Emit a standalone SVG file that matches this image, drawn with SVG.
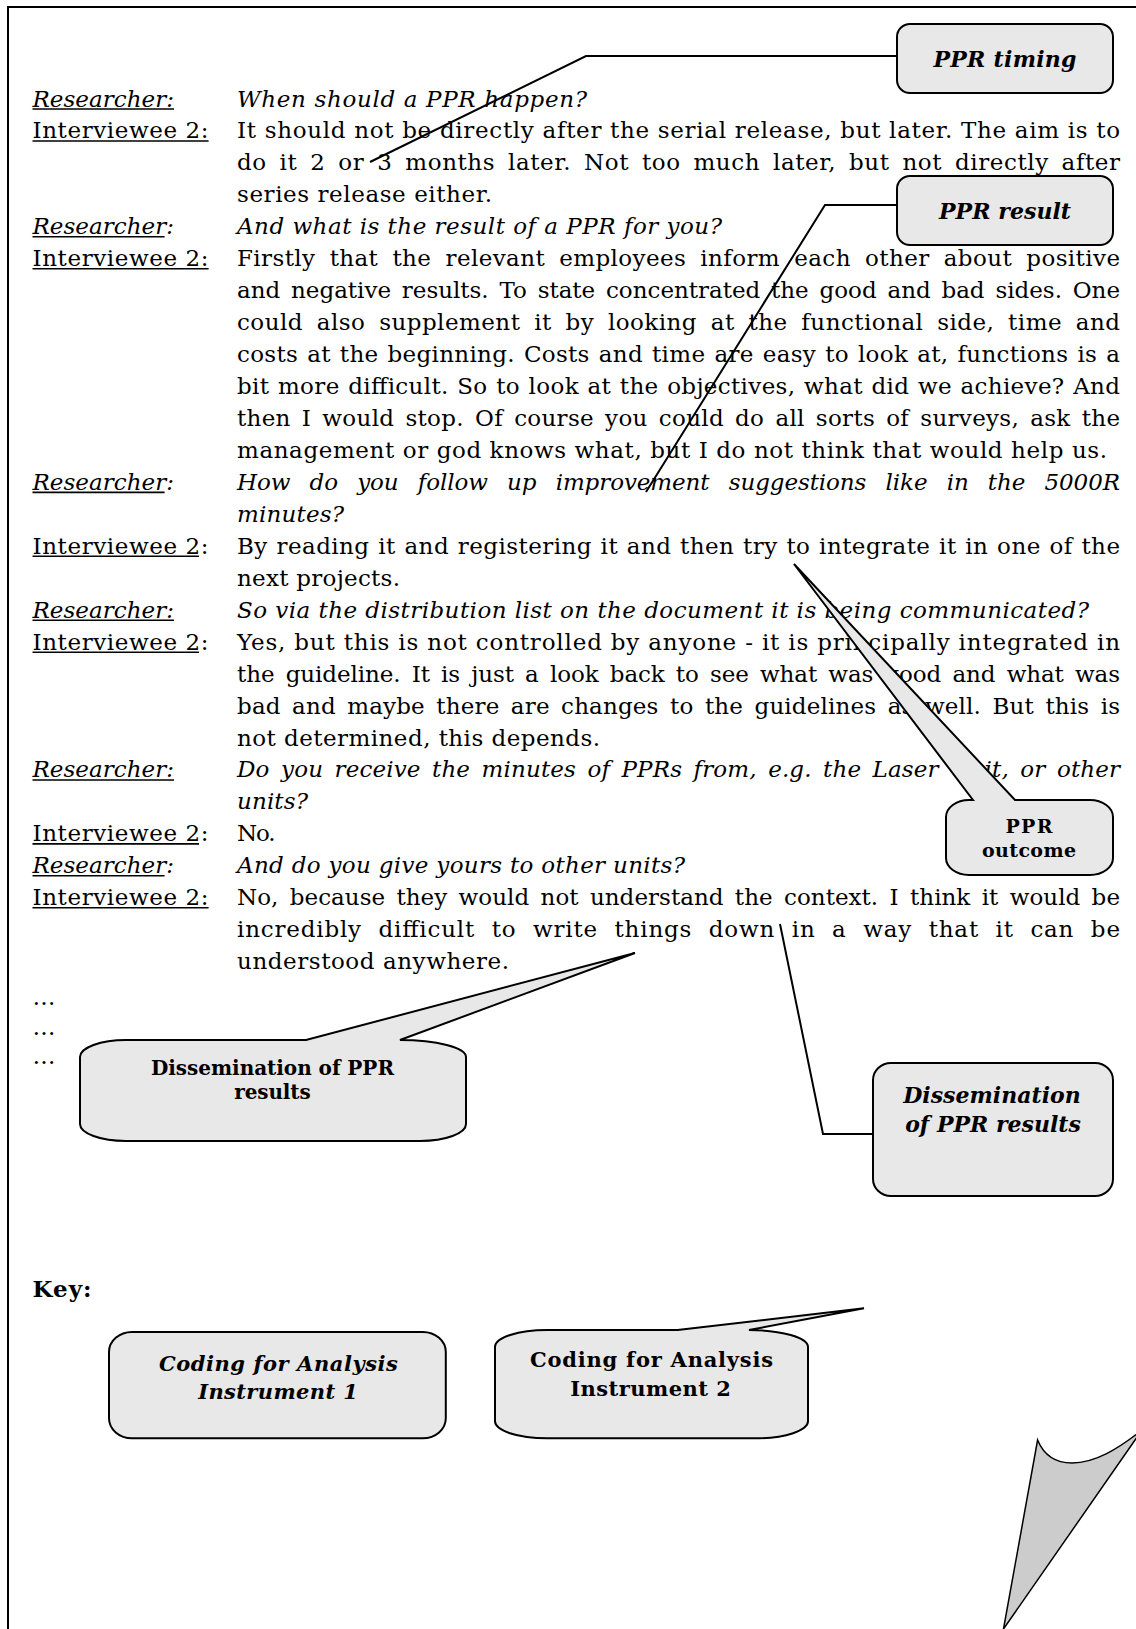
<svg xmlns="http://www.w3.org/2000/svg" width="1136" height="1629" viewBox="0 0 1136 1629">
  <style>
    .t { font-family: "DejaVu Serif", "Liberation Serif", serif; font-size: 23px; fill: #000; }
    .i { font-style: italic; }
    .ul { stroke: #000; stroke-width: 1.6; }
    .box { fill: #e8e8e8; stroke: #000; stroke-width: 2; }
    .tail { fill: #cccccc; stroke: #000; stroke-width: 1.5; }
    .lbl { font-family: "DejaVu Serif", "Liberation Serif", serif; font-weight: bold; fill: #000; text-anchor: middle; }
    .con { fill: none; stroke: #000; stroke-width: 2; }
  </style>

  <rect width="1136" height="1629" fill="#fff"/>
  <!-- frame: left and top edges only -->
  <path d="M8,1629 V7 H1136" fill="none" stroke="#000" stroke-width="2"/>

  <!-- interview transcript; justified lines get word spacing, textLength trims the rest -->
  <g id="transcript" class="t">
    <text x="32.5" y="106.5" class="i" textLength="141.5" lengthAdjust="spacing">Researcher:</text>
    <text x="237" y="106.5" class="i" textLength="350" lengthAdjust="spacing">When should a PPR happen?</text>

    <text x="32.5" y="138.45" textLength="176" lengthAdjust="spacing">Interviewee 2:</text>
    <text x="237" y="138.45" textLength="883" lengthAdjust="spacing">It should not be directly after the serial release, but later. The aim is to</text>
    <text x="237" y="170.4" word-spacing="5" textLength="883" lengthAdjust="spacing">do it 2 or 3 months later. Not too much later, but not directly after</text>
    <text x="237" y="202.35" textLength="255" lengthAdjust="spacing">series release either.</text>

    <text x="32.5" y="234.3" class="i" textLength="141.5" lengthAdjust="spacing">Researcher:</text>
    <text x="237" y="234.3" class="i" textLength="485" lengthAdjust="spacing">And what is the result of a PPR for you?</text>

    <text x="32.5" y="266.25" textLength="176" lengthAdjust="spacing">Interviewee 2:</text>
    <text x="237" y="266.25" word-spacing="6.5" textLength="883" lengthAdjust="spacing">Firstly that the relevant employees inform each other about positive</text>
    <text x="237" y="298.2" word-spacing="3.5" textLength="883" lengthAdjust="spacing">and negative results. To state concentrated the good and bad sides. One</text>
    <text x="237" y="330.15" word-spacing="6" textLength="883" lengthAdjust="spacing">could also supplement it by looking at the functional side, time and</text>
    <text x="237" y="362.1" word-spacing="1.5" textLength="883" lengthAdjust="spacing">costs at the beginning. Costs and time are easy to look at, functions is a</text>
    <text x="237" y="394.05" word-spacing="1" textLength="883" lengthAdjust="spacing">bit more difficult. So to look at the objectives, what did we achieve? And</text>
    <text x="237" y="426" word-spacing="3.5" textLength="883" lengthAdjust="spacing">then I would stop. Of course you could do all sorts of surveys, ask the</text>
    <text x="237" y="457.95" textLength="870" lengthAdjust="spacing">management or god knows what, but I do not think that would help us.</text>

    <text x="32.5" y="489.9" class="i" textLength="141.5" lengthAdjust="spacing">Researcher:</text>
    <text x="237" y="489.9" class="i" word-spacing="12" textLength="883" lengthAdjust="spacing">How do you follow up improvement suggestions like in the 5000R</text>
    <text x="237" y="521.85" class="i" textLength="107" lengthAdjust="spacing">minutes?</text>

    <text x="32.5" y="553.8" textLength="176" lengthAdjust="spacing">Interviewee 2:</text>
    <text x="237" y="553.8" word-spacing="1" textLength="883" lengthAdjust="spacing">By reading it and registering it and then try to integrate it in one of the</text>
    <text x="237" y="585.75" textLength="163" lengthAdjust="spacing">next projects.</text>

    <text x="32.5" y="617.7" class="i" textLength="141.5" lengthAdjust="spacing">Researcher:</text>
    <text x="237" y="617.7" class="i" textLength="852" lengthAdjust="spacing">So via the distribution list on the document it is being communicated?</text>

    <text x="32.5" y="649.65" textLength="176" lengthAdjust="spacing">Interviewee 2:</text>
    <text x="237" y="649.65" textLength="883" lengthAdjust="spacing">Yes, but this is not controlled by anyone - it is principally integrated in</text>
    <text x="237" y="681.6" word-spacing="4" textLength="883" lengthAdjust="spacing">the guideline. It is just a look back to see what was good and what was</text>
    <text x="237" y="713.55" word-spacing="4" textLength="883" lengthAdjust="spacing">bad and maybe there are changes to the guidelines as well. But this is</text>
    <text x="237" y="745.5" textLength="363" lengthAdjust="spacing">not determined, this depends.</text>

    <text x="32.5" y="777.45" class="i" textLength="141.5" lengthAdjust="spacing">Researcher:</text>
    <text x="237" y="777.45" class="i" word-spacing="4" textLength="883" lengthAdjust="spacing">Do you receive the minutes of PPRs from, e.g. the Laser Unit, or other</text>
    <text x="237" y="809.4" class="i" textLength="71" lengthAdjust="spacing">units?</text>

    <text x="32.5" y="841.35" textLength="176" lengthAdjust="spacing">Interviewee 2:</text>
    <text x="237" y="841.35" textLength="38.5" lengthAdjust="spacing">No.</text>

    <text x="32.5" y="873.3" class="i" textLength="141.5" lengthAdjust="spacing">Researcher:</text>
    <text x="237" y="873.3" class="i" textLength="448" lengthAdjust="spacing">And do you give yours to other units?</text>

    <text x="32.5" y="905.25" textLength="176" lengthAdjust="spacing">Interviewee 2:</text>
    <text x="237" y="905.25" word-spacing="4" textLength="883" lengthAdjust="spacing">No, because they would not understand the context. I think it would be</text>
    <text x="237" y="937.2" word-spacing="8.5" textLength="883" lengthAdjust="spacing">incredibly difficult to write things down in a way that it can be</text>
    <text x="237" y="969.15" textLength="272" lengthAdjust="spacing">understood anywhere.</text>

    <text x="32.5" y="1005">…</text>
    <text x="32.5" y="1035">…</text>
    <text x="32.5" y="1064">…</text>

    <text x="32.5" y="1297" font-weight="bold" textLength="59" lengthAdjust="spacing">Key:</text>
  </g>

  <!-- speaker-label underlines (some stop before the colon) -->
  <g id="speaker-underlines" class="ul">
    <line x1="32.5" y1="109" x2="174" y2="109"/>
    <line x1="32.5" y1="141" x2="208.6" y2="141"/>
    <line x1="32.5" y1="236.8" x2="164.6" y2="236.8"/>
    <line x1="32.5" y1="268.8" x2="208.6" y2="268.8"/>
    <line x1="32.5" y1="492.4" x2="164.6" y2="492.4"/>
    <line x1="32.5" y1="556.3" x2="199" y2="556.3"/>
    <line x1="32.5" y1="620.2" x2="174" y2="620.2"/>
    <line x1="32.5" y1="652.2" x2="199" y2="652.2"/>
    <line x1="32.5" y1="780" x2="174" y2="780"/>
    <line x1="32.5" y1="843.9" x2="199" y2="843.9"/>
    <line x1="32.5" y1="875.8" x2="164.6" y2="875.8"/>
    <line x1="32.5" y1="907.8" x2="208.6" y2="907.8"/>
  </g>

  <!-- plain connectors from code boxes to the passages they tag -->
  <g id="connectors">
    <polyline class="con" points="370,162 586,56 897,56"/>
    <polyline class="con" points="646,492 825,205 897,205"/>
    <polyline class="con" points="780,924 823,1134 873,1134"/>
  </g>

  <g id="node-ppr-timing">
    <rect class="box" x="897" y="24" width="216" height="69" rx="13" ry="13"/>
    <text class="lbl" x="1005" y="66.7" font-size="22" font-style="italic" textLength="143" lengthAdjust="spacing">PPR timing</text>
  </g>

  <g id="node-ppr-result">
    <rect class="box" x="897" y="176" width="216" height="69" rx="13" ry="13"/>
    <text class="lbl" x="1005" y="219" font-size="22" font-style="italic" textLength="132" lengthAdjust="spacing">PPR result</text>
  </g>

  <g id="node-ppr-outcome">
    <path class="box" d="M973,800 L794,564 L1015,800 L1090,800 A23,17 0 0 1 1113,817 L1113,858 A23,17 0 0 1 1090,875 L969,875 A23,17 0 0 1 946,858 L946,817 A23,17 0 0 1 969,800 Z"/>
    <text class="lbl" x="1029" y="832.5" font-size="19" textLength="47" lengthAdjust="spacing">PPR</text>
    <text class="lbl" x="1029" y="856.5" font-size="19" textLength="94" lengthAdjust="spacing">outcome</text>
  </g>

  <g id="node-dissemination-2">
    <path class="box" d="M126,1040 L306,1040 L635,953 L400,1040 A66,17 0 0 1 466,1057 L466,1124 A46,17 0 0 1 420,1141 L126,1141 A46,17 0 0 1 80,1124 L80,1057 A46,17 0 0 1 126,1040 Z"/>
    <text class="lbl" x="272.5" y="1074.5" font-size="20" textLength="243" lengthAdjust="spacing">Dissemination of PPR</text>
    <text class="lbl" x="272.5" y="1098.5" font-size="20" textLength="76.5" lengthAdjust="spacing">results</text>
  </g>

  <g id="node-dissemination-1">
    <rect class="box" x="873" y="1063" width="240" height="133" rx="18" ry="17"/>
    <text class="lbl" x="992" y="1103.3" font-size="22" font-style="italic" textLength="177.5" lengthAdjust="spacing">Dissemination</text>
    <text class="lbl" x="993" y="1131.7" font-size="22" font-style="italic" textLength="175.7" lengthAdjust="spacing">of PPR results</text>
  </g>

  <g id="key-instrument-1">
    <rect class="box" x="109" y="1332" width="336.8" height="106.3" rx="23" ry="20"/>
    <text class="lbl" x="278.4" y="1370.7" font-size="21" font-style="italic" textLength="239" lengthAdjust="spacing">Coding for Analysis</text>
    <text class="lbl" x="278" y="1399" font-size="21" font-style="italic" textLength="159.6" lengthAdjust="spacing">Instrument 1</text>
  </g>

  <g id="key-instrument-2">
    <path class="box" d="M547,1330 L677.6,1330 L864,1308.3 L749,1330 A59,17 0 0 1 808,1347 L808,1421 A52,17 0 0 1 756,1438.3 L547,1438.3 A52,17 0 0 1 495,1421 L495,1347 A52,17 0 0 1 547,1330 Z"/>
    <text class="lbl" x="651.5" y="1366.7" font-size="21" textLength="243" lengthAdjust="spacing">Coding for Analysis</text>
    <text class="lbl" x="650.5" y="1396" font-size="21" textLength="160.6" lengthAdjust="spacing">Instrument 2</text>
  </g>

  <!-- tail of a callout whose body lies beyond the page edge -->
  <g id="offpage-callout">
    <path class="tail" d="M1037.6,1440 C1045,1458 1058,1463 1072,1463 C1095,1463 1118,1449 1142,1430 L1003.5,1629 Z"/>
  </g>
</svg>
